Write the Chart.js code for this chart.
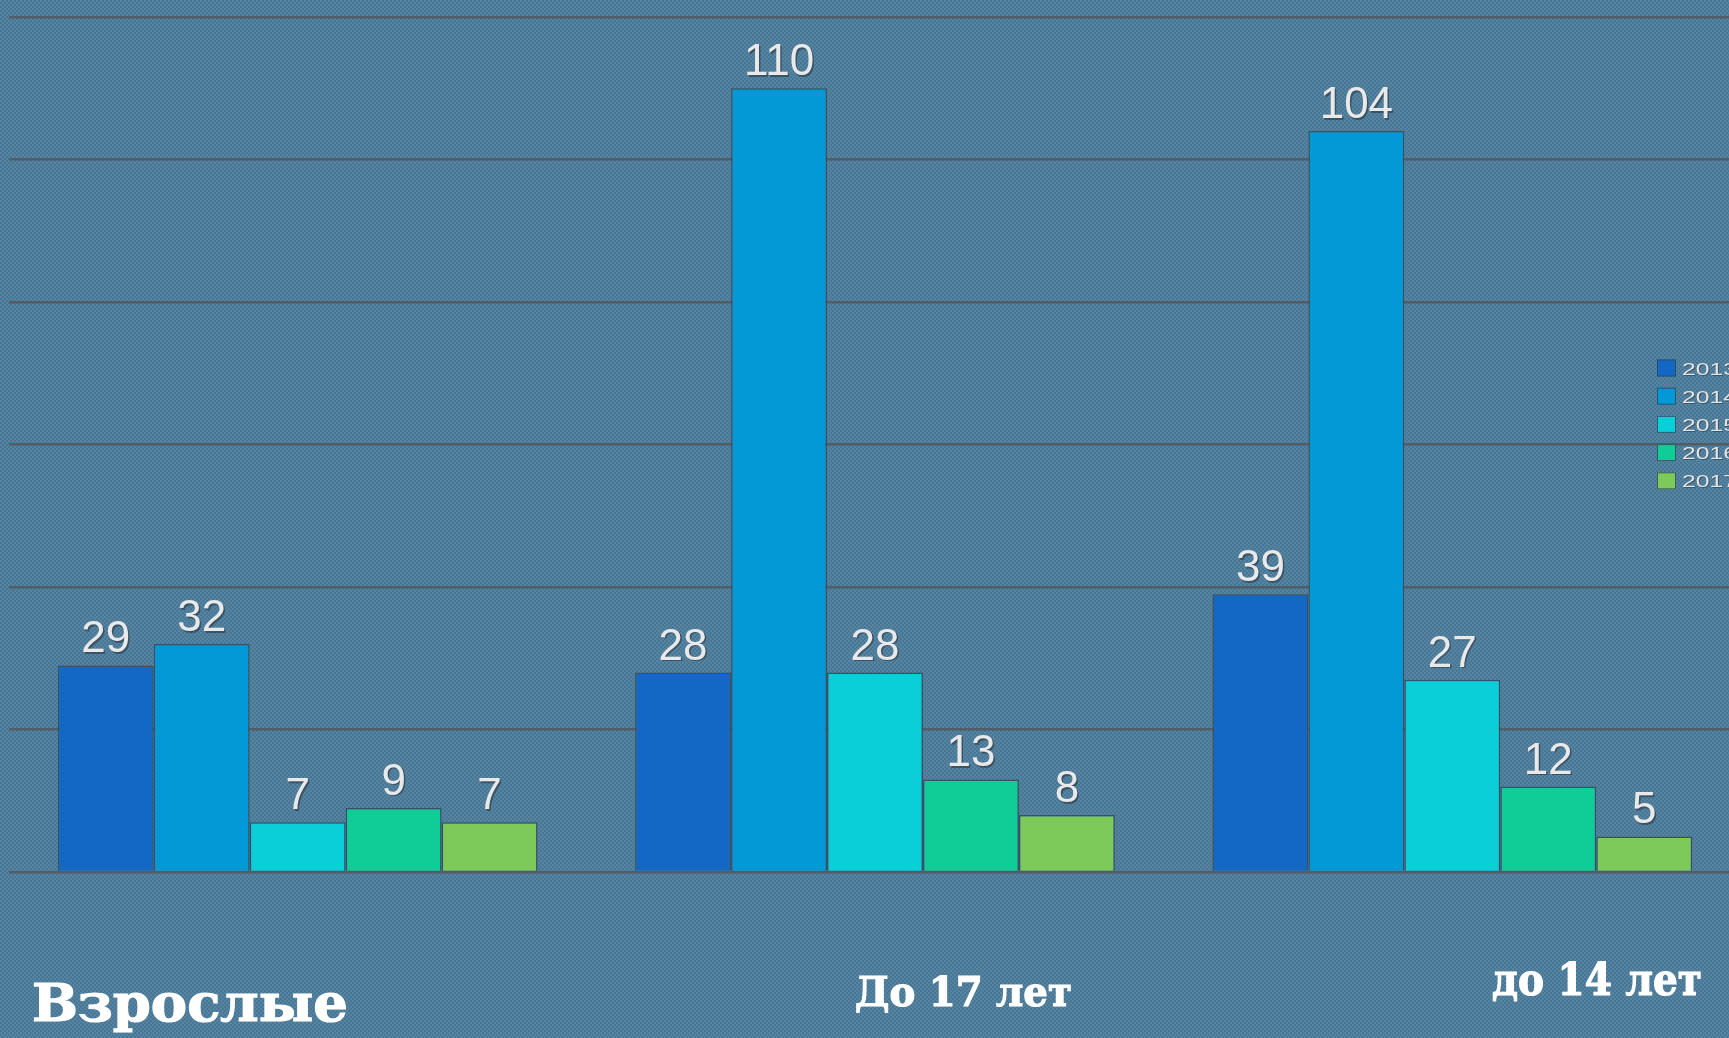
<!DOCTYPE html>
<html>
<head>
<meta charset="utf-8">
<script src="https://cdn.jsdelivr.net/npm/chart.js@4.4.1/dist/chart.umd.min.js"></script>
<style>
  html, body { margin: 0; padding: 0; width: 1729px; height: 1038px; overflow: hidden; }
  body {
    background-color: #4c7a98;
    background-image: repeating-conic-gradient(#4a7694 0 25%, #5485a3 0 50%);
    background-size: 4px 4px;
    position: relative;
  }
  #wrap { position: absolute; left: 0; top: 0; width: 1760px; height: 1038px; }
  .cat { position: absolute; color: #ffffff; font-weight: bold; white-space: nowrap; line-height: 1;
         font-family: "DejaVu Serif", serif; -webkit-text-stroke: 1.2px #ffffff; transform-origin: left top; }
  #cat0 { left: 32px; top: 977px; font-size: 52px; }
  #cat1 { left: 855px; top: 972px; font-size: 41px; }
  #cat2 { left: 1492px; top: 957px; font-size: 45px; }
</style>
</head>
<body>
<div id="wrap"><canvas id="c" width="1760" height="1038"></canvas></div>
<div class="cat" id="cat0"></div>
<div class="cat" id="cat1"></div>
<div class="cat" id="cat2"></div>
<script>
const categories = ["Взрослые", "До 17 лет", "до 14 лет"];
const years = ["2013", "2014", "2015", "2016", "2017"];
const values2013 = [29, 28, 39];
const values2014 = [32, 110, 104];
const values2015 = [7, 28, 27];
const values2016 = [9, 13, 12];
const values2017 = [7, 8, 5];
const seriesValues = [values2013, values2014, values2015, values2016, values2017];
const colors = ["#1268c4", "#0399d6", "#0acfd9", "#10cc97", "#7dc95a"];
const yTicks = { min: 0, max: 120, step: 20 };

const labelWidths = [316, 217, 210];
categories.forEach((c, i) => {
  const el = document.getElementById('cat' + i);
  el.textContent = c;
  const w = el.getBoundingClientRect().width;
  if (w > 0) el.style.transform = 'scaleX(' + (labelWidths[i] / w) + ')';
});

const valueLabels = {
  id: 'valueLabels',
  afterDatasetsDraw(chart) {
    const ctx = chart.ctx;
    ctx.save();
    ctx.font = '44px "Liberation Sans", Arial, sans-serif';
    ctx.textAlign = 'center';
    ctx.textBaseline = 'alphabetic';
    chart.data.datasets.forEach((ds, di) => {
      const meta = chart.getDatasetMeta(di);
      meta.data.forEach((bar, i) => {
        const t = String(ds.data[i]);
        ctx.fillStyle = 'rgba(40,50,60,0.55)';
        ctx.fillText(t, bar.x + 1.5, bar.y - 11.5);
        ctx.fillStyle = '#e9e9e9';
        ctx.fillText(t, bar.x, bar.y - 13);
      });
    });
    ctx.restore();
  }
};

const overlayLegend = {
  id: 'overlayLegend',
  afterDraw(chart) {
    const ctx = chart.ctx;
    ctx.save();
    ctx.font = '17px "Liberation Sans", Arial, sans-serif';
    ctx.textBaseline = 'middle';
    ctx.textAlign = 'left';
    const x0 = 1657, y0 = 368, dy = 28.2;
    chart.data.datasets.forEach((ds, i) => {
      const y = y0 + i * dy;
      ctx.fillStyle = ds.backgroundColor;
      ctx.fillRect(x0, y - 8.5, 19, 17);
      ctx.strokeStyle = 'rgba(45,70,90,0.8)';
      ctx.lineWidth = 1;
      ctx.strokeRect(x0 + 0.5, y - 8, 18, 16);
      ctx.save();
      ctx.translate(x0 + 25, y + 2);
      ctx.scale(1.45, 1);
      ctx.fillStyle = 'rgba(40,50,60,0.5)';
      ctx.fillText(ds.label, 0.7, 1);
      ctx.fillStyle = '#e2e2e2';
      ctx.fillText(ds.label, 0, 0);
      ctx.restore();
    });
    ctx.restore();
  }
};

new Chart(document.getElementById('c'), {
  type: 'bar',
  data: {
    labels: categories,
    datasets: years.map((y, i) => ({
      label: y,
      data: seriesValues[i],
      backgroundColor: colors[i],
      borderColor: 'rgba(50,75,95,0.85)',
      borderWidth: 1.5,
      categoryPercentage: 0.831,
      barPercentage: 1.0
    }))
  },
  options: {
    responsive: false,
    animation: false,
    events: [],
    layout: { padding: { left: 9, right: 19, top: 17, bottom: 166 } },
    plugins: { legend: { display: false }, tooltip: { enabled: false } },
    scales: {
      x: { display: false },
      y: {
        min: yTicks.min, max: yTicks.max,
        ticks: { stepSize: yTicks.step, display: false },
        border: { display: false },
        grid: { color: 'rgba(82,90,97,0.9)', lineWidth: 2.5, drawTicks: false }
      }
    }
  },
  plugins: [valueLabels, overlayLegend]
});
</script>
</body>
</html>
